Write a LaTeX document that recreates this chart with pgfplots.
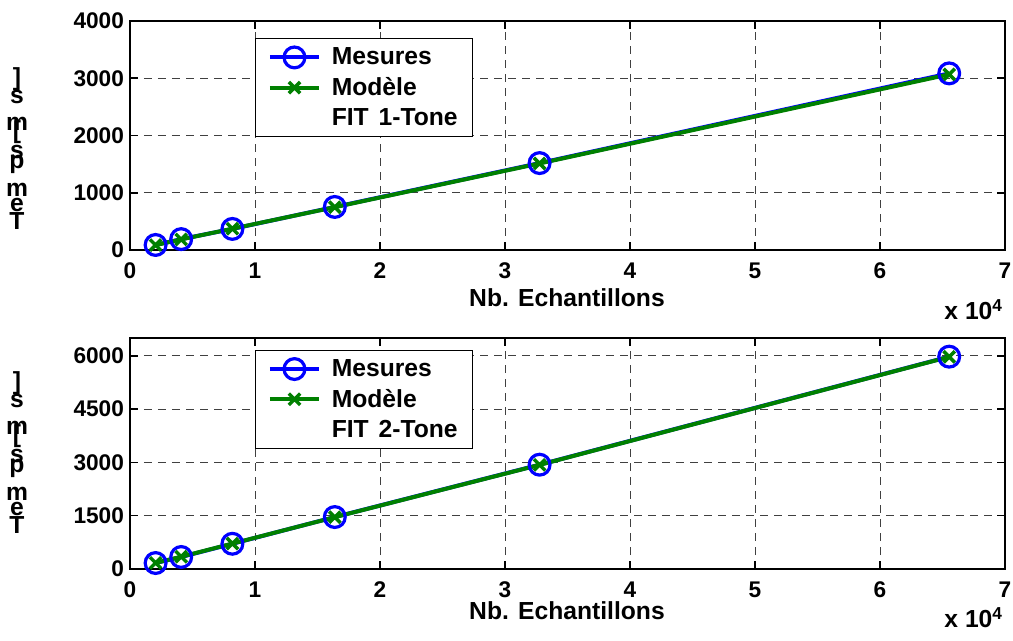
\documentclass[border=0pt]{standalone}
\usepackage{fontspec}
\setmainfont{Liberation Sans}
\usepackage{pgfplots}
\pgfplotsset{compat=1.18}
\definecolor{mblue}{RGB}{0,0,255}
\definecolor{mgreen}{RGB}{0,128,0}
\newcommand\tf{\fontsize{17}{17}\selectfont\bfseries}
\newcommand\lf{\fontsize{18.5}{18.5}\selectfont\bfseries}
\pgfplotsset{
  myax/.style={
    scale only axis, width=656.25pt,
    xmin=0, xmax=7, xtick={0,1,...,7},
    tick align=inside, major tick length=6pt,
    axis line style={line width=1.4pt}, every tick/.style={line width=1.2pt,black},
    grid=major, major grid style={dash pattern=on 6pt off 4.5pt, line width=0.7pt, black!75},
    /pgf/number format/assume math mode=true,
    /pgf/number format/set thousands separator={},
    tick label style={font=\tf},
    yticklabel style={xshift=-1pt},
    xticklabel style={yshift=-6pt},
    scaled ticks=false,
    legend cell align=left,
    legend image code/.code={\draw[mark repeat=2,mark phase=2] plot coordinates {(0pt,0pt)(18.5pt,0pt)(37pt,0pt)};},
    legend style={font=\lf, draw=black, line width=1pt, inner xsep=9pt, inner ysep=5pt,
       row sep=4pt, anchor=north west, legend columns=1, column sep=6pt,
       nodes={inner sep=2pt}},
  },
  mes/.style={color=mblue, line width=3pt, mark=o, mark size=7.8pt, mark options={line width=2.4pt}},
  mod/.style={color=mgreen, line width=3pt, mark=x, mark size=6pt, mark options={line width=2.6pt}},
}
\newcommand\PX[2]{({((#1)-130)*0.75pt},{(250-(#2))*0.75pt})}
\newcommand\ylab[1]{%
  \foreach \c/\y in {]/171, s/153, m/126, [/118, s/98, p/86, m/60, e/45, T/29}{%
    \node[font=\lf, inner sep=0pt, anchor=center] at \PX{17}{#1-\y} {\c};}}
\begin{document}
\begin{tikzpicture}
\begin{axis}[myax, name=top, at={(0,0)}, anchor=south west, height=171.75pt,
  ymin=0, ymax=4000, ytick={0,1000,2000,3000,4000},
  legend style={at={(0.143,0.926)}}]
\addplot[mes] coordinates {(0.2048,88) (0.4096,190) (0.8192,368) (1.6384,752) (3.2768,1518) (6.5536,3085)};
\addlegendentry{Mesures}
\addplot[mod] coordinates {(0.2048,86) (0.4096,185) (0.8192,372) (1.6384,748) (3.2768,1512) (6.5536,3068)};
\addlegendentry{Modèle}
\addlegendimage{empty legend}
\addlegendentry{FIT\hspace{0.4em}1-Tone}
\end{axis}
\begin{axis}[myax, name=bot, at={(0,-239.25pt)}, anchor=south west, height=173.25pt,
  ymin=0, ymax=6500, ytick={0,1500,3000,4500,6000},
  legend style={at={(0.143,0.95)}}]
\addplot[mes] coordinates {(0.2048,168) (0.4096,338) (0.8192,710) (1.6384,1462) (3.2768,2935) (6.5536,5975)};
\addlegendentry{Mesures}
\addplot[mod] coordinates {(0.2048,172) (0.4096,345) (0.8192,715) (1.6384,1458) (3.2768,2930) (6.5536,5970)};
\addlegendentry{Modèle}
\addlegendimage{empty legend}
\addlegendentry{FIT\hspace{0.4em}2-Tone}
\end{axis}
\node[font=\lf] at \PX{567}{298} {Nb. Echantillons};
\node[font=\lf] at \PX{567}{611} {Nb. Echantillons};
\node[font=\lf, anchor=base east, inner sep=0pt] at \PX{1003}{320} {x 10\textsuperscript{4}};
\node[font=\lf, anchor=base east, inner sep=0pt] at \PX{1003}{628} {x 10\textsuperscript{4}};
\ylab{250}
\ylab{569-15}
\pgfresetboundingbox
\path[use as bounding box] \PX{0}{0} rectangle \PX{1013}{641};
\end{tikzpicture}
\end{document}
